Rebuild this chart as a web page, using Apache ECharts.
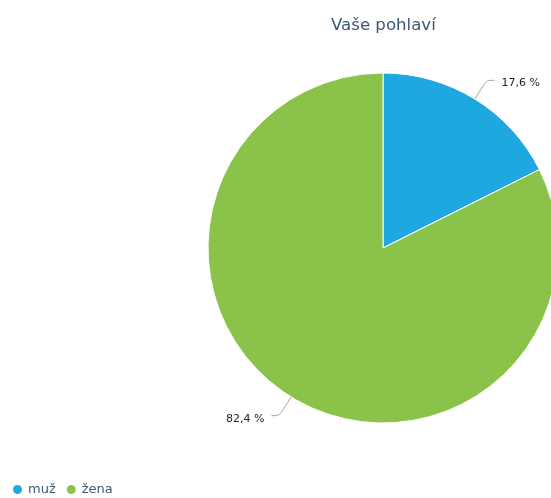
<!DOCTYPE html>
<html><head><meta charset="utf-8">
<script src="https://cdn.jsdelivr.net/npm/echarts@6/dist/echarts.min.js"></script>
<style>html,body{margin:0;padding:0;background:#fff}#c{width:551px;height:498px}</style>
</head><body><div id="c"></div>
<script>
const categories = ['muž', 'žena'];
const values = [17.6, 82.4];
const colors = ['#1fa8e0', '#8bc34a'];
const chart = echarts.init(document.getElementById('c'), null, {renderer: 'canvas'});
chart.setOption({
  animation: false,
  title: {text: 'Vaše pohlaví', left: 326, top: 12,
    textStyle: {fontFamily: 'DejaVu Sans', fontSize: 16.6, fontWeight: 'normal', color: '#3e5872'}},
  legend: {left: 6, top: 478, icon: 'circle', itemWidth: 11, itemHeight: 11, itemGap: 9,
    textStyle: {fontFamily: 'DejaVu Sans', fontSize: 13, color: '#3e5872'},
    data: categories},
  color: colors,
  series: [{
    type: 'pie', center: [383, 248], radius: 175, startAngle: 90, clockwise: true,
    itemStyle: {borderColor: '#fff', borderWidth: 1},
    label: {formatter: p => '{a|' + p.value.toFixed(1).replace('.', ',') + ' %}',
      distanceToLabelLine: 7,
      rich: {a: {fontFamily: 'DejaVu Sans', fontSize: 11, color: '#222', padding: [6, 0, 0, 0]}}},
    labelLine: {length: 22, length2: 8, smooth: 0.3, lineStyle: {color: '#999', width: 1}},
    emphasis: {disabled: true},
    data: categories.map((c, i) => ({name: c, value: values[i]}))
  }]
});
</script></body></html>
